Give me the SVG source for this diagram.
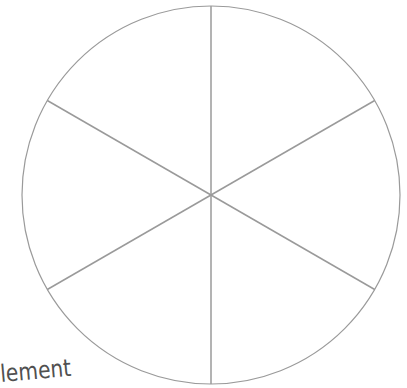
<svg xmlns="http://www.w3.org/2000/svg" width="407" height="388" viewBox="0 0 407 388">
<style>
.ln{stroke:#9a9a9a;stroke-width:1.5;fill:none}
.rim{stroke:#9a9a9a;stroke-width:1.2;fill:none}
.lbl{font-family:"Comic Sans MS","DejaVu Sans",sans-serif;font-size:24px;fill:#505050}
</style>
<rect width="407" height="388" fill="#fff"/>
<g id="wheel">
<circle class="rim" cx="211" cy="195" r="189"/>
</g>
<g id="spokes">
<line class="ln" x1="211" y1="6" x2="211" y2="384"/>
<line class="ln" x1="47.3" y1="100.5" x2="374.7" y2="289.5"/>
<line class="ln" x1="47.3" y1="289.5" x2="374.7" y2="100.5"/>
</g>
<g id="label">
<text class="lbl" x="1" y="382" textLength="71" lengthAdjust="spacingAndGlyphs" transform="rotate(-5 1 382)">lement</text>
</g>
</svg>
